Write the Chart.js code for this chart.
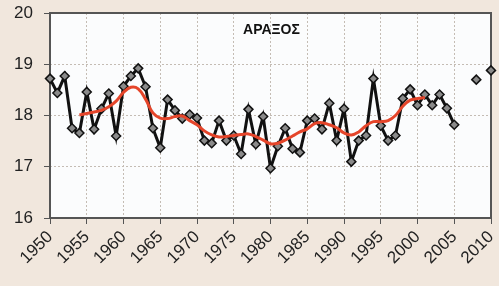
<!DOCTYPE html>
<html>
<head>
<meta charset="utf-8">
<style>
  html, body { margin: 0; padding: 0; background: #f1e7dd; }
</style>
<script src="https://cdn.jsdelivr.net/npm/chart.js@4.4.0/dist/chart.umd.min.js"></script>
</head>
<body>
<canvas id="myChart" width="499" height="286"></canvas>
<script>
const years = [1950, 1951, 1952, 1953, 1954, 1955, 1956, 1957, 1958, 1959,
  1960, 1961, 1962, 1963, 1964, 1965, 1966, 1967, 1968, 1969,
  1970, 1971, 1972, 1973, 1974, 1975, 1976, 1977, 1978, 1979,
  1980, 1981, 1982, 1983, 1984, 1985, 1986, 1987, 1988, 1989,
  1990, 1991, 1992, 1993, 1994, 1995, 1996, 1997, 1998, 1999,
  2000, 2001, 2002, 2003, 2004, 2005, 2006, 2007, 2008, 2009, 2010];

// yearly mean temperature (°C)
const temps = [18.72, 18.44, 18.77, 17.75, 17.66, 18.46, 17.73, 18.13, 18.43, 17.60,
  18.57, 18.77, 18.92, 18.56, 17.75, 17.37, 18.31, 18.10, 17.94, 18.02,
  17.95, 17.51, 17.46, 17.90, 17.51, 17.61, 17.25, 18.12, 17.44, 17.98,
  16.97, 17.40, 17.75, 17.35, 17.28, 17.90, 17.94, 17.73, 18.24, 17.51,
  18.13, 17.10, 17.51, 17.61, 18.72, 17.80, 17.51, 17.61, 18.33, 18.51,
  18.20, 18.41, 18.20, 18.41, 18.14, 17.82, null, null, 18.70, null, 18.88];

// smoothed curve, 1954-2001
const trendYears = [1954, 1955, 1956, 1957, 1958, 1959, 1960, 1961, 1962, 1963,
  1964, 1965, 1966, 1967, 1968, 1969, 1970, 1971, 1972, 1973,
  1974, 1975, 1976, 1977, 1978, 1979, 1980, 1981, 1982, 1983,
  1984, 1985, 1986, 1987, 1988, 1989, 1990, 1991, 1992, 1993,
  1994, 1995, 1996, 1997, 1998, 1999, 2000, 2001];
const trend = [18.01, 18.04, 18.07, 18.10, 18.17, 18.28, 18.45, 18.55, 18.52, 18.32,
  18.05, 17.95, 17.94, 17.98, 17.99, 17.90, 17.82, 17.70, 17.62, 17.58,
  17.59, 17.61, 17.63, 17.64, 17.59, 17.52, 17.45, 17.46, 17.52, 17.60,
  17.68, 17.74, 17.84, 17.86, 17.82, 17.76, 17.66, 17.62, 17.68, 17.80,
  17.88, 17.88, 17.90, 18.00, 18.18, 18.30, 18.33, 18.35];

const stationName = 'ΑΡΑΞΟΣ';

const framePlugin = {
  id: 'frame',
  beforeDraw(chart) {
    const { ctx, chartArea: a } = chart;
    ctx.save();
    ctx.fillStyle = '#f1e7dd';
    ctx.fillRect(0, 0, chart.width, chart.height);
    ctx.fillStyle = '#fbfcfd';
    ctx.fillRect(a.left, a.top, a.right - a.left, a.bottom - a.top);
    ctx.restore();
  },
  beforeDatasetsDraw(chart) {
    const { ctx, chartArea: a } = chart;
    ctx.save();
    ctx.strokeStyle = '#555';
    ctx.lineWidth = 2;
    ctx.strokeRect(a.left, a.top, a.right - a.left, a.bottom - a.top);
    ctx.fillStyle = '#111';
    ctx.font = 'bold 14px "Liberation Sans", Arial, sans-serif';
    ctx.textAlign = 'center';
    ctx.textBaseline = 'middle';
    ctx.fillText(stationName, (a.left + a.right) / 2 + 1, a.top + 17);
    ctx.restore();
  }
};

const ctx = document.getElementById('myChart').getContext('2d');

const myChart = new Chart(ctx, {
  type: 'line',
  data: {
    datasets: [{
      label: 'trend',
      data: trendYears.map((y, i) => ({ x: y, y: trend[i] })),
      borderColor: '#e5452a',
      borderWidth: 3,
      pointRadius: 0,
      tension: 0.4,
      fill: false
    }, {
      label: stationName,
      data: years.map((y, i) => ({ x: y, y: temps[i] })),
      borderColor: '#111',
      borderWidth: 3,
      spanGaps: false,
      tension: 0,
      fill: false,
      clip: false,
      pointStyle: 'rectRot',
      pointRadius: 4.5,
      pointBackgroundColor: '#8a8a8a',
      pointBorderColor: '#111',
      pointBorderWidth: 1.5
    }]
  },
  options: {
    responsive: false,
    animation: false,
    layout: { padding: { top: 13, right: 8, left: 0, bottom: 0 } },
    plugins: {
      legend: { display: false },
      tooltip: { enabled: false }
    },
    scales: {
      x: {
        type: 'linear',
        min: 1950,
        max: 2010,
        ticks: {
          stepSize: 5,
          callback: v => String(v),
          minRotation: 45,
          maxRotation: 45,
          padding: 3,
          color: '#222',
          font: { size: 17, family: '"Liberation Sans", Arial, sans-serif' }
        },
        grid: { color: '#c4bcb4', tickColor: '#555', tickLength: 6, lineWidth: 1 },
        border: { display: false, dash: [2, 2] },
        afterFit(scale) {
          scale.height = 68;
          scale.paddingLeft = 0;
          scale.paddingRight = 0;
        }
      },
      y: {
        min: 16,
        max: 20,
        ticks: {
          stepSize: 1,
          padding: 11,
          color: '#222',
          font: { size: 17, family: '"Liberation Sans", Arial, sans-serif' }
        },
        grid: { color: '#c4bcb4', tickColor: '#555', tickLength: 6, lineWidth: 1 },
        border: { display: false, dash: [2, 2] },
        afterFit(scale) {
          scale.width = 50;
          scale.paddingTop = 0;
          scale.paddingBottom = 0;
        }
      }
    }
  },
  plugins: [framePlugin]
});
</script>
</body>
</html>
